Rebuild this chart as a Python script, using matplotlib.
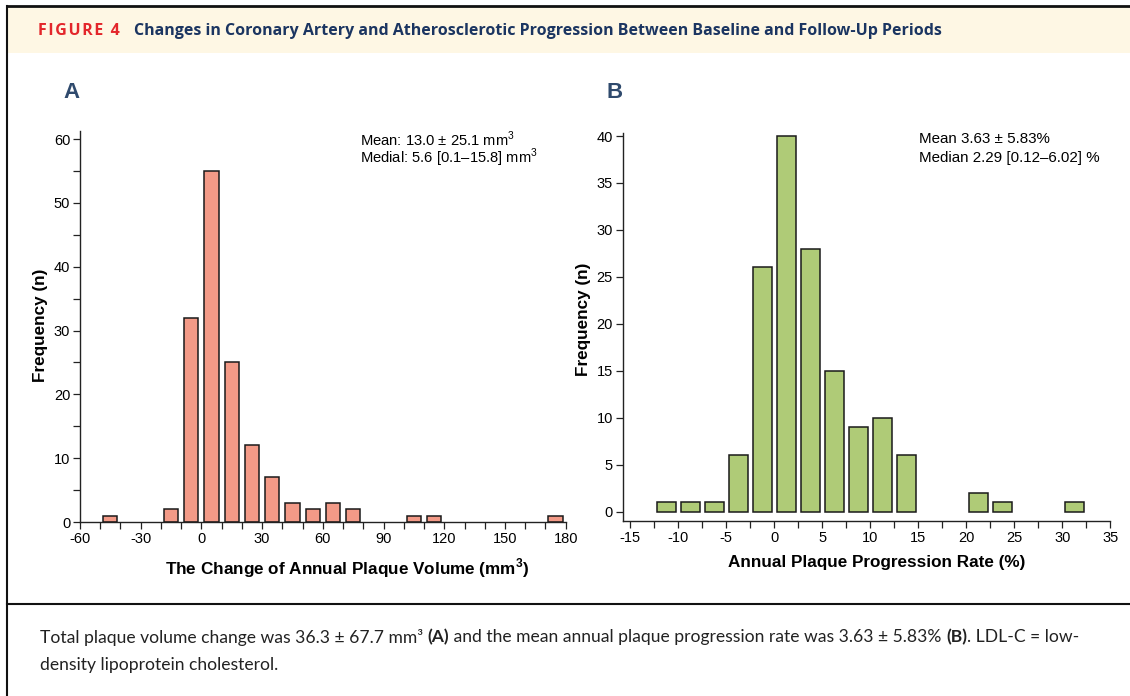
import matplotlib
matplotlib.use("Agg")
import matplotlib.pyplot as plt
from matplotlib.lines import Line2D
from matplotlib.patches import Rectangle
from matplotlib.ticker import MultipleLocator

# ==== Données ====
a_centers = [-45, -15, -5, 5, 15, 25, 35, 45, 55, 65, 75, 105, 115, 175]
a_counts = [1, 2, 32, 55, 25, 12, 7, 3, 2, 3, 2, 1, 1, 1]

b_centers = [-11.25, -8.75, -6.25, -3.75, -1.25, 1.25, 3.75, 6.25, 8.75,
             11.25, 13.75, 21.25, 23.75, 31.25]
b_counts = [1, 1, 1, 6, 26, 40, 28, 15, 9, 10, 6, 2, 1, 1]

a_stats = ["Mean: 13.0 \u00b1 25.1 mm$^3$", "Medial: 5.6 [0.1\u201315.8] mm$^3$"]
b_stats = ["Mean 3.63 \u00b1 5.83%", "Median 2.29 [0.12\u20136.02] %"]

W, H = 1130, 696
plt.rcParams["font.family"] = ["Liberation Sans", "DejaVu Sans"]
plt.rcParams["mathtext.fontset"] = "custom"
plt.rcParams["mathtext.rm"] = "Liberation Sans"
plt.rcParams["mathtext.bf"] = "Liberation Sans:bold"
plt.rcParams["axes.unicode_minus"] = False

fig = plt.figure(figsize=(W / 100, H / 100), dpi=100)


def fx(px):
    return px / W


def fy(py):
    return 1 - py / H


# ==== Cadre, bandeau de titre ====
fig.patches.append(Rectangle((fx(7), fy(53)), 1, fy(6) - fy(53), transform=fig.transFigure,
                             facecolor="#fef7e4", edgecolor="none", zorder=0))
fig.add_artist(Line2D([fx(7), 1], [fy(6), fy(6)], color="#111111", lw=2))
fig.add_artist(Line2D([fx(7), fx(7)], [fy(6), 0], color="#111111", lw=1.5))
fig.add_artist(Line2D([fx(7), 1], [fy(604), fy(604)], color="#111111", lw=1.5))

hdr = ["Open Sans", "DejaVu Sans"]
fig.text(fx(38), fy(31), "\u200a".join("FIGURE") + " \u2009" + "4", color="#e3262b", fontsize=11.5,
         fontweight="bold", family=hdr, va="center", ha="left")
fig.text(fx(134), fy(31), "Changes in Coronary Artery and Atherosclerotic Progression "
         "Between Baseline and Follow-Up Periods", color="#1b3561", fontsize=11.5,
         fontweight="bold", family=hdr, va="center", ha="left")

fig.text(fx(71), fy(92), "A", color="#2f4a6d", fontsize=16, fontweight="bold", ha="center", va="center")
fig.text(fx(615), fy(92), "B", color="#2f4a6d", fontsize=16, fontweight="bold", ha="center", va="center")


def style(ax):
    for s in ["top", "right"]:
        ax.spines[s].set_visible(False)
    for s in ["left", "bottom"]:
        ax.spines[s].set_linewidth(1.0)
        ax.spines[s].set_color("#222222")
    ax.tick_params(which="both", direction="out", length=5, width=0.9, color="#222222",
                   labelsize=10.5, pad=2)


# ==== Panneau A ====
axA = fig.add_axes([fx(80), fy(522), fx(565.7) - fx(80), fy(131.5) - fy(522)])
axA.bar(a_centers, a_counts, width=7, color="#f39a87", edgecolor="#1a1a1a", linewidth=1.1)
axA.set_xlim(-60, 180)
axA.set_ylim(0, 61.2)
axA.xaxis.set_major_locator(MultipleLocator(30))
axA.xaxis.set_minor_locator(MultipleLocator(10))
axA.yaxis.set_major_locator(MultipleLocator(10))
axA.yaxis.set_minor_locator(MultipleLocator(5))
style(axA)
axA.set_xlabel(r"The Change of Annual Plaque Volume (mm$^{\mathbf{3}}$)", fontsize=12.3,
               fontweight="bold", va="center")
axA.set_ylabel("Frequency (n)", fontsize=12.3, fontweight="bold", va="center")
axA.xaxis.set_label_coords(0.55, -0.118)
axA.yaxis.set_label_coords(-0.082, 0.504)
for i, s in enumerate(a_stats):
    fig.text(fx(360), fy(139 + 19 * i), s, fontsize=10.6, ha="left", va="center")

# ==== Panneau B ====
axB = fig.add_axes([fx(622.7), fy(521), fx(1110.3) - fx(622.7), fy(133.2) - fy(521)])
axB.bar(b_centers, b_counts, width=2.0, color="#afcb77", edgecolor="#1a1a1a", linewidth=1.1)
axB.set_xlim(-15.8, 35)
axB.set_ylim(-1, 40.3)
axB.xaxis.set_major_locator(MultipleLocator(5))
axB.xaxis.set_minor_locator(MultipleLocator(2.5))
axB.yaxis.set_major_locator(MultipleLocator(5))
style(axB)
axB.set_xlabel("Annual Plaque Progression Rate (%)", fontsize=12.3, fontweight="bold", va="center")
axB.set_ylabel("Frequency (n)", fontsize=12.3, fontweight="bold", va="center")
axB.xaxis.set_label_coords(0.52, -0.106)
axB.yaxis.set_label_coords(-0.081, 0.52)
for i, s in enumerate(b_stats):
    fig.text(fx(919), fy(139 + 19 * i), s, fontsize=10.9, ha="left", va="center")

# ==== Légende sous la figure ====
cap = "Lato"
line1 = [("Total plaque volume change was 36.3 \u00b1 67.7 mm\u00b3 ", "normal"),
         ("(A)", "bold"),
         (" and the mean annual plaque progression rate was 3.63 \u00b1 5.83% ", "normal"),
         ("(B)", "bold"),
         (". LDL-C = low-", "normal")]
fig.canvas.draw()
r = fig.canvas.get_renderer()
x0 = fx(40)
for txt, w in line1:
    tt = fig.text(x0, fy(637), txt, fontsize=12.6, family=cap, fontweight=w, color="#222222",
                  ha="left", va="center")
    bb = tt.get_window_extent(renderer=r)
    x0 += bb.width / W
fig.text(fx(40), fy(665), "density lipoprotein cholesterol.", fontsize=12.6, family=cap,
         color="#222222", ha="left", va="center")

plt.savefig("out.png", dpi=100)
